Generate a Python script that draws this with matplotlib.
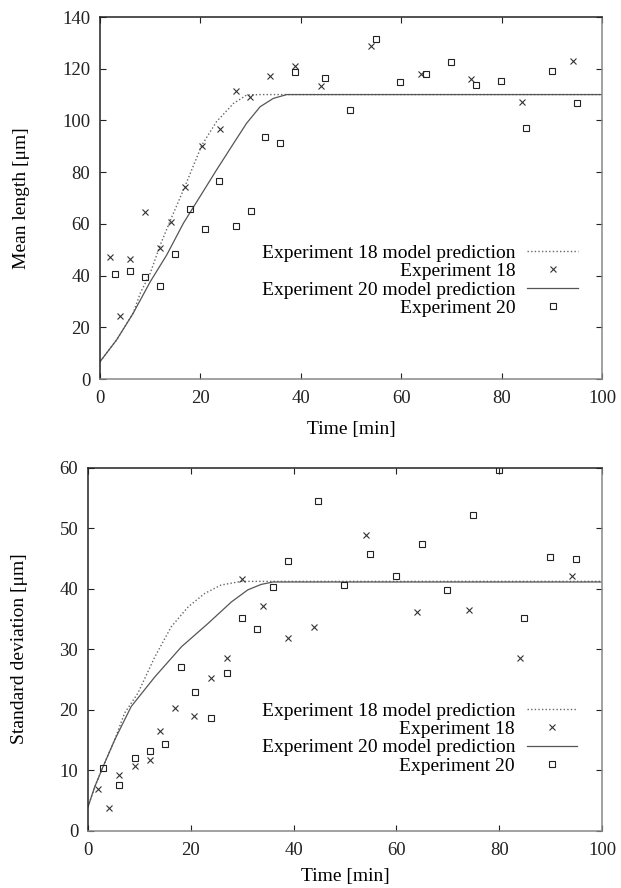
import matplotlib
matplotlib.use("Agg")
import matplotlib.pyplot as plt

plt.rcParams['font.family'] = ['Liberation Serif', 'DejaVu Serif']

# ---------------- data: mean length ----------------
t18 = [2.0, 3.9, 6.0, 9.0, 11.9, 14.1, 16.9, 20.4, 23.9, 27.0, 29.9, 33.9, 38.8, 44.0, 53.9, 63.9, 74.0, 84.1, 94.2]
len18 = [47.1, 24.4, 46.5, 64.5, 50.8, 60.7, 74.4, 90.2, 96.5, 111.5, 109.2, 117.2, 120.9, 113.2, 128.9, 118.1, 116.1, 107.0, 122.8]

t20 = [3.0, 5.9, 9.0, 11.9, 14.9, 17.9, 21.0, 23.8, 27.0, 30.0, 32.9, 35.9, 38.8, 44.8, 49.9, 54.9, 59.8, 64.9, 69.9, 74.9, 79.9, 84.9, 90.0, 95.0]
len20 = [40.6, 41.6, 39.3, 36.1, 48.3, 65.6, 57.9, 76.4, 59.2, 65.0, 93.7, 91.1, 118.7, 116.4, 104.0, 131.6, 114.7, 117.9, 122.7, 113.8, 115.2, 97.2, 119.1, 106.8]

mt18_len = [0, 3.3, 6.6, 8.0, 10.0, 12.0, 13.9, 16.9, 20.3, 23.2, 26.6, 29.2, 31.9, 100]
mv18_len = [6.7, 15.1, 25.4, 33.1, 40.9, 51.8, 60.8, 74.4, 90.5, 99.5, 106.6, 109.8, 110, 110]
mt20_len = [0, 3.3, 6.6, 10.0, 13.3, 16.6, 19.9, 23.2, 26.6, 29.2, 31.9, 34.5, 37.2, 40.0, 100]
mv20_len = [6.7, 15.1, 25.4, 37.6, 48.0, 60.2, 70.5, 80.8, 91.1, 98.9, 105.3, 108.5, 110, 110, 110]

# ---------------- data: standard deviation ----------------
ts18 = [2.0, 4.1, 6.0, 9.1, 12.1, 14.1, 17.0, 20.6, 23.9, 27.0, 30.0, 34.0, 39.0, 44.0, 54.1, 64.1, 74.1, 84.1, 94.1]
sd18 = [6.9, 3.8, 9.2, 10.6, 11.7, 16.4, 20.3, 18.9, 25.3, 28.6, 41.6, 37.1, 31.8, 33.7, 48.9, 36.1, 36.4, 28.5, 42.1]
ts20 = [3.0, 6.0, 9.1, 12.0, 15.0, 18.0, 20.9, 23.9, 27.0, 29.9, 32.9, 35.9, 38.9, 44.8, 49.9, 54.9, 59.9, 64.9, 69.8, 74.9, 79.9, 84.9, 89.9, 94.9]
sd20 = [10.4, 7.5, 12.0, 13.1, 14.3, 27.1, 22.9, 18.6, 26.0, 35.2, 33.4, 40.3, 44.6, 54.5, 40.6, 45.7, 42.1, 47.3, 39.7, 52.1, 59.7, 35.2, 45.2, 44.9]

mt18_sd = [0, 1.3, 2.9, 5.2, 7.1, 9.7, 13.0, 16.2, 19.5, 22.7, 25.9, 29.8, 100]
mv18_sd = [3.9, 7.2, 10.5, 15.0, 19.4, 22.7, 28.7, 33.7, 37.0, 39.2, 40.6, 41.2, 41.2]
mt20_sd = [0, 1.3, 2.9, 5.2, 8.4, 13.0, 18.2, 23.3, 27.9, 31.1, 33.7, 36.0, 100]
mv20_sd = [3.9, 7.2, 10.5, 15.0, 20.5, 25.4, 30.4, 34.2, 37.8, 39.8, 40.7, 41.1, 41.1]

labels = ["Experiment 18 model prediction", "Experiment 18",
          "Experiment 20 model prediction", "Experiment 20"]

FS = 14
TFS = 13.5

fig = plt.figure(figsize=(6.21, 8.88), dpi=100)
W, H = 621, 888
ax1 = fig.add_axes([100 / W, (H - 379) / H, 502 / W, 362 / H])
ax2 = fig.add_axes([88 / W, (H - 830.5) / H, 514 / W, 362.8 / H])


def style(ax, ymax, ystep, ylabel, labx, legy, xlabpad):
    ax.set_xlim(0, 100)
    ax.set_ylim(0, ymax)
    ax.set_xticks(range(0, 101, 20))
    ax.set_yticks(range(0, ymax + 1, ystep))
    ax.tick_params(direction='in', top=True, right=True, length=4, width=0.8,
                   labelsize=TFS, colors='#222')
    ax.tick_params(axis='x', pad=8)
    ax.tick_params(axis='y', pad=7)
    for s in ['left', 'top']:
        ax.spines[s].set_color('#222')
        ax.spines[s].set_linewidth(1.1)
    for s in ['right', 'bottom']:
        ax.spines[s].set_color('#888')
        ax.spines[s].set_linewidth(1.1)
    ax.set_xlabel("Time [min]", fontsize=FS, labelpad=xlabpad)
    ax.set_ylabel(ylabel, fontsize=FS)
    ax.yaxis.set_label_coords(labx, 0.5)
    ax.legend(labels, loc='center right', bbox_to_anchor=(0.952, legy),
              frameon=False, markerfirst=False, alignment='right',
              fontsize=FS, handlelength=2.6, handletextpad=0.6,
              labelspacing=0.04, borderpad=0, borderaxespad=0, numpoints=1)


dot = dict(color='#666', lw=1.0, linestyle=(0, (1, 1.6)))
sol = dict(color='#555', lw=0.9)
crs = dict(linestyle='none', marker='x', markersize=4.5, mew=0.8, color='#333')
sq = dict(linestyle='none', marker='s', markersize=4, mew=0.8, mfc='none', mec='#222')

ax1.plot(mt18_len, mv18_len, **dot)
ax1.plot(t18, len18, **crs)
ax1.plot(mt20_len, mv20_len, **sol)
ax1.plot(t20, len20, **sq)
style(ax1, 140, 20, "Mean length [\u03bcm]", -0.14, 0.272, 10)

ax2.plot(mt18_sd, mv18_sd, **dot)
ax2.plot(ts18, sd18, **crs)
ax2.plot(mt20_sd, mv20_sd, **sol)
ax2.plot(ts20, sd20, **sq)
style(ax2, 60, 10, "Standard deviation [\u03bcm]", -0.116, 0.2536, 7)

fig.savefig("out.png", dpi=100)
